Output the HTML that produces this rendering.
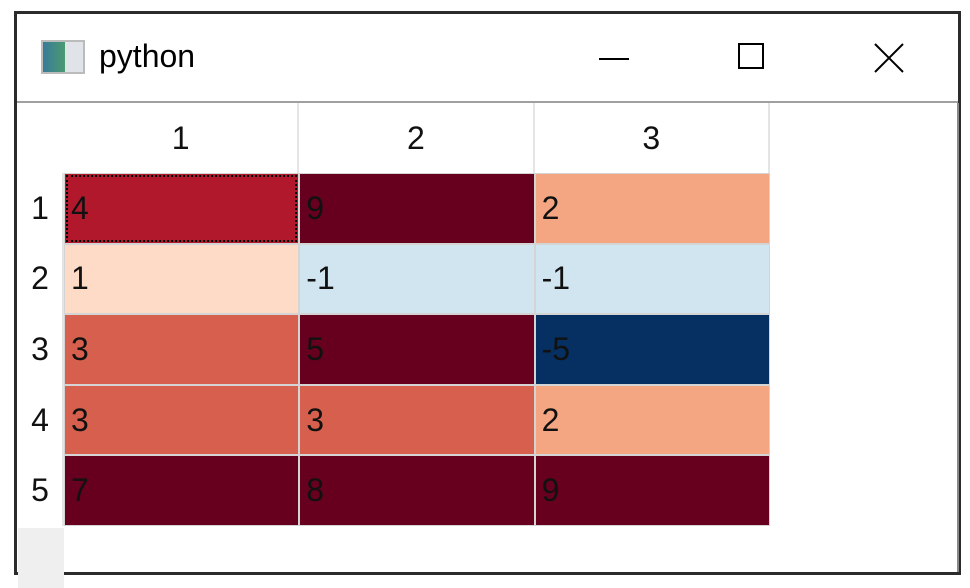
<!DOCTYPE html>
<html><head><meta charset="utf-8"><style>
body{margin:0;width:970px;height:580px;background:#fff;position:relative;overflow:hidden;font-family:"Liberation Sans","DejaVu Sans",sans-serif}
.win{position:absolute;left:14px;top:11px;width:941px;height:558px;border:3px solid #2b2b2b;background:#fff}
.title{position:absolute;left:0;top:0;width:941px;height:87px;background:#fff;border-bottom:2px solid #a0a0a0}
.t{position:absolute;left:82px;top:24px;font-size:32px;color:#000}
.icon{position:absolute;left:24px;top:26px;width:40px;height:30px;border:2px solid #bbb;background:linear-gradient(90deg,#3a7a9a 0,#4a9a70 55%,#e0e4e8 55%)}
.cell{position:absolute;font-size:32px;color:#111;box-sizing:border-box;padding-left:6px;display:flex;align-items:center}
.hdr{position:absolute;font-size:32px;color:#111;display:flex;align-items:center;justify-content:center}
</style></head><body>
<div class="win">
 <div class="title">
  <div class="icon"></div>
  <div class="t">python</div>
  <div style="position:absolute;left:582px;top:44px;width:30px;height:2px;background:#000"></div>
  <div style="position:absolute;left:721px;top:29px;width:26px;height:26px;border:2px solid #000;box-sizing:border-box"></div>
  <svg style="position:absolute;left:856px;top:28px" width="32" height="32"><path d="M2 2L30 30M30 2L2 30" stroke="#000" stroke-width="2"/></svg>
 </div>
 <div id="tbl" style="position:absolute;left:1px;top:89px;width:939px;height:469px;border-right:2px solid #888"></div>
</div>
<script>
const rowLabels=["1","2","3","4","5"];
const colLabels=["1","2","3"];
const values=[[4,9,2],[1,-1,-1],[3,5,-5],[3,3,2],[7,8,9]];
function color(v){
 if(v<=-5)return"#053061";if(v<=-3)return"#2166ac";if(v<=-2)return"#4393c3";if(v<0)return"#d1e5f0";
 if(v<=0)return"#f7f7f7";if(v<=1)return"#fddbc7";if(v<=2)return"#f4a582";if(v<=3)return"#d6604d";if(v<=4)return"#b2182b";return"#67001f";
}
const tbl=document.getElementById('tbl');
const x0=46,cw=235.3,y0=70,rh=70.6;
const corner=document.createElement('div');


corner.style.cssText=`position:absolute;left:0;top:${y0+5*rh+2}px;width:${x0}px;height:60px;background:#efefef`;
tbl.appendChild(corner);
colLabels.forEach((c,j)=>{
 const d=document.createElement('div');d.className='hdr';
 
 
 d.style.cssText+=`left:${x0+j*cw}px;top:0;width:${cw}px;height:${y0}px;border-right:2px solid #e4e4e4;box-sizing:border-box`;
 d.textContent=c;tbl.appendChild(d);
});
rowLabels.forEach((r,i)=>{
 const d=document.createElement('div');d.className='hdr';
 
 
 d.style.cssText+=`left:0;top:${y0+i*rh}px;width:${x0}px;height:${rh}px;border-right:2px solid #e4e4e4;box-sizing:border-box`;
 d.textContent=r;tbl.appendChild(d);
 values[i].forEach((v,j)=>{
  const c=document.createElement('div');c.className='cell';
  
  
  c.style.cssText+=`left:${x0+j*cw}px;top:${y0+i*rh}px;width:${cw}px;height:${rh}px;background:${color(v)};border:1px solid #d4d4d4`;
  if(i===0&&j===0)c.style.outline='2px dotted #000',c.style.outlineOffset='-4px';
  c.textContent=v;tbl.appendChild(c);
 });
});
</script>
</body></html>
